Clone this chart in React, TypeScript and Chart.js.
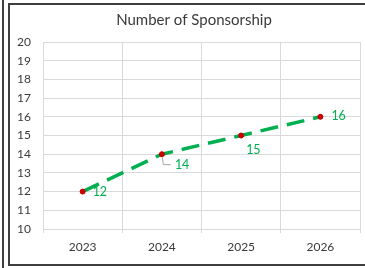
import React, { useEffect, useRef } from "react";
import { Chart, registerables } from "chart.js";

Chart.register(...registerables);

const categories = ["2023", "2024", "2025", "2026"];
const sponsorships = [12, 14, 15, 16];
const yTicks = [10, 11, 12, 13, 14, 15, 16, 17, 18, 19, 20];
const chartTitle = "Number of Sponsorship";

// label placement relative to the point (offset of label's left edge / vertical centre)
const labelPlacements = [
  { dx: 10, dy: 0, leader: false },
  { dx: 13, dy: 11, leader: true },
  { dx: 5, dy: 14, leader: false },
  { dx: 11, dy: -1, leader: false },
];

const FONT = "Lato, 'Open Sans', sans-serif";
const GREEN = "#00B050";
const TEXT = "#3a3a3a";
const GRID = "#D9D9D9";

const decorPlugin = {
  id: "decor",
  beforeDraw(chart: any) {
    const ctx = chart.ctx;
    const w = chart.width;
    const h = chart.height;
    ctx.save();
    ctx.fillStyle = "#ffffff";
    ctx.fillRect(0, 0, w, h);
    ctx.fillStyle = "#3f3f3f";
    ctx.fillRect(2, 0, 2, h);
    ctx.fillRect(8, 3, w - 8, 2);
    ctx.fillRect(8, 3, 2, h - 6);
    ctx.fillRect(8, h - 4, w - 8, 2);
    ctx.fillStyle = TEXT;
    ctx.font = `15px ${FONT}`;
    ctx.textAlign = "center";
    ctx.textBaseline = "middle";
    ctx.fillText(chartTitle, 194, 20);
    ctx.restore();
  },
  afterDatasetsDraw(chart: any) {
    const ctx = chart.ctx;
    const meta = chart.getDatasetMeta(0);
    ctx.save();
    ctx.font = `12.5px ${FONT}`;
    ctx.fillStyle = GREEN;
    ctx.textAlign = "left";
    ctx.textBaseline = "middle";
    meta.data.forEach((pt: any, i: number) => {
      const pl = labelPlacements[i];
      const v = chart.data.datasets[0].data[i];
      if (pl.leader) {
        ctx.strokeStyle = "#A6A6A6";
        ctx.lineWidth = 1;
        ctx.beginPath();
        ctx.moveTo(pt.x + 0.5, pt.y + 3);
        ctx.lineTo(pt.x + 1.5, pt.y + 10.5);
        ctx.lineTo(pt.x + 9, pt.y + 10.5);
        ctx.stroke();
      }
      ctx.fillText(String(v), pt.x + pl.dx, pt.y + pl.dy);
    });
    ctx.restore();
  },
};

export default function App() {
  const ref = useRef<HTMLCanvasElement>(null);
  useEffect(() => {
    if (!ref.current) return;
    const chart = new Chart(ref.current, {
      type: "line",
      data: {
        labels: categories,
        datasets: [
          {
            data: sponsorships,
            borderColor: GREEN,
            borderWidth: 3.5,
            borderDash: [18, 9],
            pointRadius: 2.5,
            pointBackgroundColor: "#D00000",
            pointBorderColor: "#C00000",
            pointBorderWidth: 1,
            tension: 0,
            fill: false,
          },
        ],
      },
      options: {
        responsive: false,
        animation: false,
        devicePixelRatio: 1,
        layout: { padding: { left: 0, right: 4, top: 42, bottom: 0 } },
        plugins: {
          legend: { display: false },
          title: { display: false },
          tooltip: { enabled: false },
        },
        scales: {
          x: {
            type: "category",
            offset: true,
            grid: {
              offset: true,
              color: GRID,
              drawTicks: true,
              tickLength: 4,
              lineWidth: 1,
            },
            border: { color: GRID },
            ticks: {
              color: TEXT,
              font: { family: FONT, size: 12 },
              padding: 7,
              maxRotation: 0,
            },
            afterFit(scale: any) {
              scale.height = 39;
            },
          },
          y: {
            min: yTicks[0],
            max: yTicks[yTicks.length - 1],
            afterBuildTicks(scale: any) {
              scale.ticks = yTicks.map((v) => ({ value: v }));
            },
            grid: { color: GRID, drawTicks: false, lineWidth: 1 },
            border: { color: GRID },
            ticks: {
              color: TEXT,
              font: { family: FONT, size: 12 },
              padding: 12,
            },
            afterFit(scale: any) {
              scale.width = 43;
            },
          },
        },
      },
      plugins: [decorPlugin],
    });
    return () => chart.destroy();
  }, []);
  return (
    <div style={{ position: "absolute", left: 0, top: 0, width: 365, height: 268 }}>
      <canvas ref={ref} width={365} height={268} style={{ width: 365, height: 268, display: "block" }} />
    </div>
  );
}
